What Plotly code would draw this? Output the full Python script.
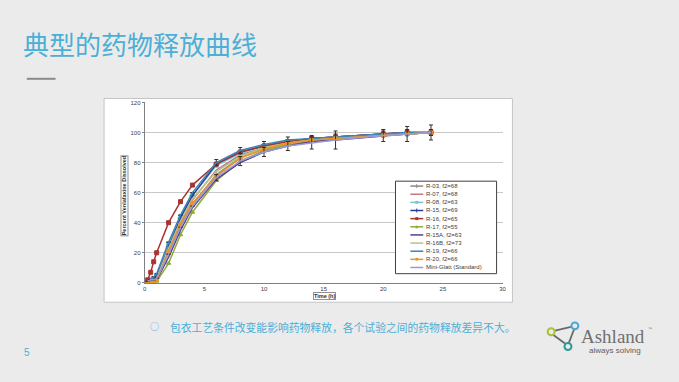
import plotly.graph_objects as go

W, H = 679, 382

times = [0.25, 0.5, 0.75, 1, 2, 3, 4, 6, 8, 10, 12, 14, 16, 20, 22, 24]

names = ["R-03, f2=68", "R-07, f2=68", "R-08, f2=63", "R-15, f2=69", "R-16, f2=65",
         "R-17, f2=55", "R-15A, f2=63", "R-16B, f2=73", "R-19, f2=66", "R-20, f2=66",
         "Mini-Glatt (Standard)"]

r03 = [1, 1, 2, 3, 20, 38, 52, 72, 83, 89, 93, 95, 96, 98, 99, 100]
r07 = [1, 2, 3, 4, 22, 40, 55, 75, 85, 90, 93, 95, 97, 99, 99, 100]
r08 = [1, 2, 3, 5, 26, 44, 58, 78, 86, 91, 94, 96, 97, 99, 99, 100]
r15 = [0, 1, 2, 4, 24, 43, 58, 79, 87, 91, 94, 96, 97, 99, 100, 100]
r16 = [2, 7, 14, 20, 40, 54, 65, 79, 87, 91, 94, 96, 97, 99, 100, 100]
r17 = [0, 0, 0, 1, 13, 32, 47, 68, 81, 88, 92, 94, 96, 98, 99, 100]
r15a = [0, 1, 1, 2, 17, 35, 50, 69, 80, 87, 91, 94, 95, 98, 99, 100]
r16b = [0, 1, 2, 3, 23, 41, 56, 74, 84, 90, 93, 95, 97, 98, 99, 100]
r19 = [1, 2, 4, 6, 27, 45, 60, 80, 88, 92, 95, 96, 97, 99, 100, 100]
r20 = [0, 0, 1, 2, 21, 39, 53, 71, 83, 89, 93, 95, 96, 98, 99, 100]
mini = [1, 2, 2, 3, 19, 37, 51, 70, 81, 87, 91, 93, 95, 98, 99, 100]

mini_err = [0, 0, 0, 0, 0, 0, 0, 2, 3, 3, 3, 4, 6, 4, 5, 5]
r19_err = [0, 0, 0, 0, 0, 0, 0, 2, 2, 2, 2, 2, 2, 2, 2, 2]

series = [r03, r07, r08, r15, r16, r17, r15a, r16b, r19, r20, mini]
colors = ["#8a8a8a", "#c07a80", "#80c4d4", "#2a3c9c", "#a83432", "#8cac34",
          "#5a3c8c", "#b4c48c", "#3a86b4", "#ee9322", "#9a9ad8"]
symbols = ["cross-thin", None, "square", "cross-thin", "square", "triangle-up",
           None, None, None, "circle", None]

x0p, x1p = 144, 505
ytop, ybot = 101, 284.3

fig = go.Figure()
for i, (nm, ys) in enumerate(zip(names, series)):
    sym = symbols[i]
    kw = dict(mode="lines+markers" if sym else "lines")
    if sym:
        kw["marker"] = dict(symbol=sym, size=4, color=colors[i],
                            line=dict(color=colors[i], width=1))
    err = None
    if nm.startswith("Mini"):
        err = dict(type="data", array=mini_err, visible=True, color="#303030",
                   thickness=1, width=2)
    elif nm.startswith("R-19"):
        err = dict(type="data", array=r19_err, visible=True, color="#303030",
                   thickness=1, width=2)
    fig.add_trace(go.Scatter(x=times, y=ys, name=nm, line=dict(color=colors[i], width=1.5),
                             error_y=err, showlegend=False, **kw))

xt = [0, 5, 10, 15, 20, 25, 30]
yt = [0, 20, 40, 60, 80, 100, 120]

fig.update_layout(
    width=W, height=H, margin=dict(l=0, r=0, t=0, b=0),
    paper_bgcolor="#ebebeb", plot_bgcolor="white",
    showlegend=False,
    font=dict(family="Liberation Sans, Arial", color="#404040"),
    xaxis=dict(domain=[x0p / W, x1p / W], range=[0, 30], tickvals=xt,
               ticktext=[str(v) for v in xt], showgrid=False, zeroline=False,
               showline=True, linecolor="#808080", linewidth=1,
               ticks="", tickfont=dict(size=6, color="#404040")),
    yaxis=dict(domain=[1 - ybot / H, 1 - ytop / H], range=[0, 120], tickvals=yt,
               ticktext=[str(v) for v in yt], showgrid=True, gridcolor="#c8c8c8",
               gridwidth=1, zeroline=False, showline=True, linecolor="#808080",
               linewidth=1, ticks="outside", ticklen=2, tickcolor="#808080",
               tickfont=dict(size=6, color="#404040")),
)

shapes = []
ann = []
# white chart box
shapes.append(dict(type="rect", xref="paper", yref="paper", x0=103 / W, x1=515 / W,
                   y0=1 - 304 / H, y1=1 - 97 / H, fillcolor="white",
                   line=dict(color="#c4c4c4", width=1), layer="below"))
# title underline
shapes.append(dict(type="line", xref="paper", yref="paper", x0=25 / W, x1=54 / W,
                   y0=1 - 77 / H, y1=1 - 77 / H, line=dict(color="#8a8a8a", width=2)))

# custom legend
lx0, lx1, ly0, ly1 = 397, 499, 181, 275
shapes.append(dict(type="rect", xref="paper", yref="paper", x0=lx0 / W, x1=lx1 / W,
                   y0=1 - ly1 / H, y1=1 - ly0 / H, fillcolor="white",
                   line=dict(color="#404040", width=1)))
for i, nm in enumerate(names):
    yy = 186 + i * 8.27
    shapes.append(dict(type="line", xref="paper", yref="paper", x0=412 / W, x1=425 / W,
                       y0=1 - yy / H, y1=1 - yy / H, line=dict(color=colors[i], width=1.5)))
    if symbols[i] in ("square", "circle"):
        shapes.append(dict(type="rect" if symbols[i] == "square" else "circle",
                           xref="paper", yref="paper",
                           x0=417 / W, x1=420 / W, y0=1 - (yy + 1.5) / H, y1=1 - (yy - 1.5) / H,
                           fillcolor=colors[i], line=dict(width=0)))
    elif symbols[i] == "cross-thin":
        shapes.append(dict(type="line", xref="paper", yref="paper", x0=418.5 / W, x1=418.5 / W,
                           y0=1 - (yy + 2) / H, y1=1 - (yy - 2) / H,
                           line=dict(color=colors[i], width=1)))
    elif symbols[i] == "triangle-up":
        shapes.append(dict(type="path", xref="paper", yref="paper",
                           path="M %f %f L %f %f L %f %f Z" % (417 / W, 1 - (yy + 1.5) / H,
                                                               420 / W, 1 - (yy + 1.5) / H,
                                                               418.5 / W, 1 - (yy - 1.8) / H),
                           fillcolor=colors[i], line=dict(width=0)))
    ann.append(dict(text=nm, xref="paper", yref="paper", x=426 / W, y=1 - yy / H,
                    xanchor="left", yanchor="middle", showarrow=False,
                    font=dict(size=6, color="#404040", family="Liberation Sans, Arial")))

# axis titles
ann.append(dict(text="<b>Percent Venlafaxine Dissolved</b>", xref="paper", yref="paper",
                x=123.5 / W, y=1 - 196 / H, textangle=-90, showarrow=False,
                xanchor="center", yanchor="middle", bordercolor="#909090", borderwidth=1,
                borderpad=0, bgcolor="white",
                font=dict(size=5.5, color="#303030", family="Liberation Sans, Arial")))
ann.append(dict(text="<b>Time (h)</b>", xref="paper", yref="paper",
                x=325 / W, y=1 - 298 / H, showarrow=False,
                xanchor="center", yanchor="middle", bordercolor="#909090", borderwidth=1,
                borderpad=0, bgcolor="white",
                font=dict(size=5.5, color="#303030", family="Liberation Sans, Arial")))

# slide title
ann.append(dict(text="典型的药物释放曲线", xref="paper", yref="paper", x=19 / W, y=1 - 41 / H,
                xanchor="left", yanchor="middle", showarrow=False,
                font=dict(size=26, color="#4cafd6", family="Noto Sans CJK SC")))
# bullet text
ann.append(dict(text="○", xref="paper", yref="paper", x=154 / W, y=1 - 329 / H,
                xanchor="center", yanchor="middle", showarrow=False,
                font=dict(size=9, color="#4cafd6", family="Noto Sans CJK SC")))
ann.append(dict(text="包衣工艺条件改变能影响药物释放，各个试验之间的药物释放差异不大。",
                xref="paper", yref="paper", x=167 / W, y=1 - 329 / H,
                xanchor="left", yanchor="middle", showarrow=False,
                font=dict(size=10.8, color="#4cafd6", family="Noto Sans CJK SC")))
# page number
ann.append(dict(text="5", xref="paper", yref="paper", x=25 / W, y=1 - 355 / H,
                xanchor="center", yanchor="middle", showarrow=False,
                font=dict(size=10, color="#4cafd6", family="Liberation Sans, Arial")))

# Ashland logo
def circ(cx, cy, r, col):
    return dict(type="circle", xref="paper", yref="paper", x0=(cx - r) / W, x1=(cx + r) / W,
                y0=1 - (cy + r) / H, y1=1 - (cy - r) / H, fillcolor="#ebebeb",
                line=dict(color=col, width=2))

def seg(xa, ya, xb, yb):
    return dict(type="line", xref="paper", yref="paper", x0=xa / W, x1=xb / W,
                y0=1 - ya / H, y1=1 - yb / H, line=dict(color="#6a6a6a", width=1.8))

shapes.append(seg(557, 333, 574, 329))
shapes.append(seg(556, 337, 568, 346))
shapes.append(seg(577, 332, 572, 345))
shapes.append(circ(554, 334, 3.5, "#a9c23c"))
shapes.append(circ(578, 328, 3.5, "#4aa8d6"))
shapes.append(circ(571, 349, 3.5, "#2e9a98"))
ann.append(dict(text="Ashland", xref="paper", yref="paper", x=582 / W, y=1 - 339 / H,
                xanchor="left", yanchor="middle", showarrow=False,
                font=dict(size=19, color="#707070", family="Liberation Serif")))
ann.append(dict(text="™", xref="paper", yref="paper", x=650 / W, y=1 - 331 / H,
                xanchor="left", yanchor="middle", showarrow=False,
                font=dict(size=4, color="#707070")))
ann.append(dict(text="always solving", xref="paper", yref="paper", x=618 / W, y=1 - 353 / H,
                xanchor="center", yanchor="middle", showarrow=False,
                font=dict(size=8, color="#606060", family="Liberation Sans, Arial")))

fig.update_layout(shapes=shapes, annotations=ann)
fig.write_html("out.html", config={"displayModeBar": False},
               post_script="document.body.style.margin='0';document.body.style.padding='0';"
                           "document.body.style.background='#ebebeb';"
                           "document.documentElement.style.background='#ebebeb';")
